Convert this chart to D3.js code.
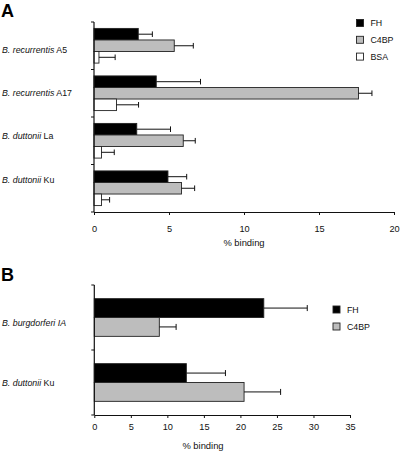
<!DOCTYPE html>
<html>
<head>
<meta charset="utf-8">
<script src="https://cdn.jsdelivr.net/npm/d3@7"></script>
<style>
  html, body { margin: 0; padding: 0; background: #fff; }
  svg { display: block; font-family: "Liberation Sans", Arial, sans-serif; }
</style>
</head>
<body>
<svg id="chart" width="400" height="452"></svg>
<script>
// ---------- DATA ----------
// Panel A
const categoriesA = ["B. recurrentis A5", "B. recurrentis A17", "B. duttonii La", "B. duttonii Ku"];
const speciesA = ["B. recurrentis", "B. recurrentis", "B. duttonii", "B. duttonii"];
const strainA = ["A5", "A17", "La", "Ku"];
const seriesA = ["FH", "C4BP", "BSA"];
const fhA = [2.95, 4.15, 2.85, 4.93];
const fhErrA = [0.94, 2.95, 2.25, 1.25];
const c4bpA = [5.35, 17.63, 5.95, 5.83];
const c4bpErrA = [1.27, 0.9, 0.8, 0.88];
const bsaA = [0.33, 1.5, 0.5, 0.5];
const bsaErrA = [1.08, 1.47, 0.85, 0.54];
const xTicksA = [0, 5, 10, 15, 20];

// Panel B
const categoriesB = ["B. burgdorferi IA", "B. duttonii Ku"];
const speciesB = ["B. burgdorferi IA", "B. duttonii"];
const strainB = ["", "Ku"];
const seriesB = ["FH", "C4BP"];
const fhB = [23.2, 12.6];
const fhErrB = [5.95, 5.35];
const c4bpB = [8.9, 20.5];
const c4bpErrB = [2.3, 5.0];
const xTicksB = [0, 5, 10, 15, 20, 25, 30, 35];

const fills = { FH: "#000000", C4BP: "#bdbdbd", BSA: "#ffffff" };
const FONT = 8.8;
const TICKFONT = 9.2;

const svg = d3.select("#chart");

function panel(cfg) {
  const g = svg.append("g");
  const x = d3.scaleLinear().domain(cfg.xDomain).range(cfg.xRange);
  const y = d3.scaleBand().domain(cfg.categories).range(cfg.yRange)
    .paddingInner(cfg.pad).paddingOuter(cfg.pad / 2);
  const ys = d3.scaleBand().domain(cfg.series).range([0, y.bandwidth()]);
  const yLab = d3.scalePoint().domain(cfg.categories).range(cfg.labelRange);

  const rows = [];
  cfg.categories.forEach((c, i) => {
    cfg.series.forEach((s, j) => {
      rows.push({ cat: c, ser: s, v: cfg.values[j][i], e: cfg.errors[j][i] });
    });
  });

  g.selectAll("rect.bar").data(rows).join("rect")
    .attr("class", "bar")
    .attr("x", x(0))
    .attr("y", d => y(d.cat) + ys(d.ser))
    .attr("width", d => x(d.v) - x(0))
    .attr("height", ys.bandwidth())
    .attr("fill", d => fills[d.ser])
    .attr("stroke", "#222")
    .attr("stroke-width", 0.9);

  const eg = g.selectAll("g.err").data(rows).join("g").attr("class", "err");
  eg.append("line")
    .attr("x1", d => x(d.v)).attr("x2", d => x(d.v + d.e))
    .attr("y1", d => y(d.cat) + ys(d.ser) + ys.bandwidth() / 2)
    .attr("y2", d => y(d.cat) + ys(d.ser) + ys.bandwidth() / 2)
    .attr("stroke", "#111").attr("stroke-width", 1);
  eg.append("line")
    .attr("x1", d => x(d.v + d.e)).attr("x2", d => x(d.v + d.e))
    .attr("y1", d => y(d.cat) + ys(d.ser) + ys.bandwidth() / 2 - cfg.cap)
    .attr("y2", d => y(d.cat) + ys(d.ser) + ys.bandwidth() / 2 + cfg.cap)
    .attr("stroke", "#111").attr("stroke-width", 1);

  const xa = g.append("g")
    .attr("transform", `translate(0,${cfg.yRange[1]})`)
    .call(d3.axisBottom(x).tickValues(cfg.xTicks).tickSizeInner(3).tickSizeOuter(0)
      .tickPadding(cfg.tickPad).tickFormat(d3.format("d")));
  xa.select(".domain").attr("stroke", "#111").attr("stroke-width", 1.2);
  xa.selectAll(".tick line").attr("stroke", "#111");
  xa.selectAll(".tick text").attr("font-size", TICKFONT).attr("fill", "#111")
    .attr("font-family", "Liberation Sans, Arial, sans-serif");

  const x0 = x(0);
  g.append("line").attr("x1", x0).attr("x2", x0)
    .attr("y1", cfg.yRange[0]).attr("y2", cfg.yRange[1])
    .attr("stroke", "#111").attr("stroke-width", 1.2);
  const n = cfg.categories.length;
  const bounds = d3.range(n + 1).map(i => cfg.yRange[0] + i * (cfg.yRange[1] - cfg.yRange[0]) / n);
  g.selectAll("line.ytick").data(bounds).join("line")
    .attr("class", "ytick")
    .attr("x1", x0 - 3).attr("x2", x0)
    .attr("y1", d => d).attr("y2", d => d)
    .attr("stroke", "#111").attr("stroke-width", 1);

  const lt = g.selectAll("text.cat").data(cfg.categories).join("text")
    .attr("class", "cat")
    .attr("x", 2)
    .attr("y", d => yLab(d))
    .attr("dy", "0.35em")
    .attr("font-size", FONT)
    .attr("fill", "#111");
  lt.append("tspan").attr("font-style", "italic").text((d, i) => cfg.species[i]);
  lt.append("tspan").text((d, i) => cfg.strain[i] ? " " + cfg.strain[i] : "");

  g.append("text")
    .attr("x", cfg.titlePos[0]).attr("y", cfg.titlePos[1])
    .attr("text-anchor", "middle")
    .attr("font-size", 9.4).attr("fill", "#111")
    .text("% binding");

  const lg = g.selectAll("g.leg").data(cfg.series).join("g")
    .attr("class", "leg")
    .attr("transform", (d, i) => `translate(${cfg.legend[0]},${cfg.legend[1] + i * cfg.legend[2]})`);
  lg.append("rect").attr("x", 0).attr("y", 0).attr("width", 7).attr("height", 7)
    .attr("fill", d => fills[d]).attr("stroke", "#222").attr("stroke-width", 0.9);
  lg.append("text").attr("x", 14).attr("y", 3.5).attr("dy", "0.35em")
    .attr("font-size", FONT).attr("fill", "#111").text(d => d);

  g.append("text").attr("x", 1).attr("y", cfg.letterY)
    .attr("font-size", 18).attr("font-weight", "bold").attr("fill", "#000")
    .text(cfg.letter);
}

panel({
  letter: "A", letterY: 16.5,
  categories: categoriesA, species: speciesA, strain: strainA, series: seriesA,
  values: [fhA, c4bpA, bsaA], errors: [fhErrA, c4bpErrA, bsaErrA],
  xDomain: [0, 20], xRange: [94, 394], xTicks: xTicksA,
  yRange: [22, 212], pad: 0.27, cap: 2.8, tickPad: 10,
  labelRange: [49.5, 179.5], titlePos: [244, 245.5],
  legend: [356.5, 19.5, 16.8]
});

panel({
  letter: "B", letterY: 280.5,
  categories: categoriesB, species: speciesB, strain: strainB, series: seriesB,
  values: [fhB, c4bpB], errors: [fhErrB, c4bpErrB],
  xDomain: [0, 35], xRange: [94.3, 350], xTicks: xTicksB,
  yRange: [285, 415], pad: 0.42, cap: 3, tickPad: 5.5,
  labelRange: [323, 383], titlePos: [203, 448.5],
  legend: [333, 306, 17]
});
</script>
</body>
</html>
